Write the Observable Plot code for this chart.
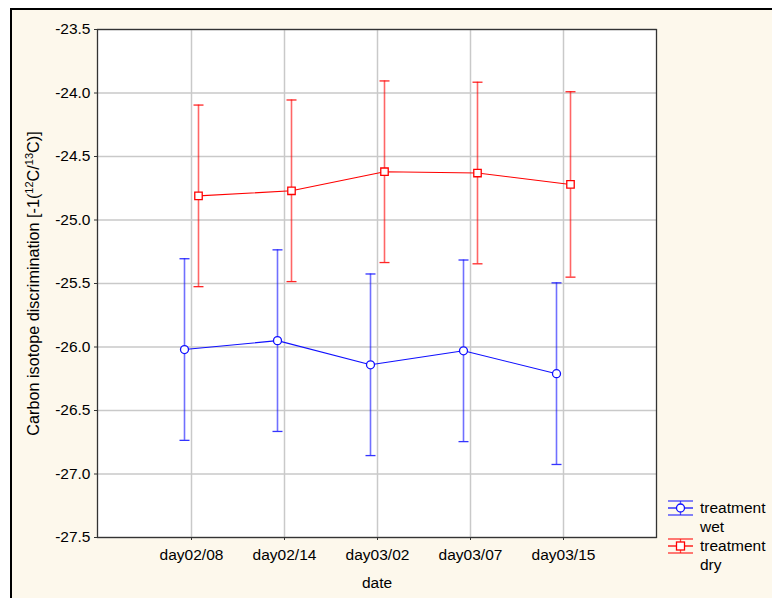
<!DOCTYPE html>
<html>
<head>
<meta charset="utf-8">
<script src="https://cdn.jsdelivr.net/npm/d3@7"></script>
<script src="https://cdn.jsdelivr.net/npm/@observablehq/plot@0.6"></script>
<style>
  html, body { margin: 0; padding: 0; background: #ffffff; overflow: hidden; }
  #wrap { position: relative; width: 772px; height: 598px; overflow: hidden; font-family: "Liberation Sans", Arial, sans-serif; }
  #bg { position: absolute; left: 10px; top: 8px; width: 800px; height: 640px; background: #fdf8ec; border-left: 2px solid #000; border-top: 2px solid #000; }
  #chart { position: absolute; left: 0; top: 0; }
  #legend { position: absolute; left: 667px; top: 497px; font-size: 15.5px; color: #000; }
  .item { position: relative; height: 38px; }
  .item svg { position: absolute; left: 0; top: 3px; }
  .item .lab { position: absolute; left: 33px; top: 1px; line-height: 19px; }
</style>
</head>
<body>
<div id="wrap">
  <div id="bg"></div>
  <div id="chart"></div>
  <div id="legend"></div>
</div>
<script>
const dates = ["day02/08", "day02/14", "day03/02", "day03/07", "day03/15"];
const wetMean = [-26.02, -25.95, -26.14, -26.03, -26.21];
const wetErr  = [0.715, 0.715, 0.715, 0.715, 0.715];
const dryMean = [-24.81, -24.77, -24.62, -24.63, -24.72];
const dryErr  = [0.715, 0.715, 0.715, 0.715, 0.73];
const yTicks = [-27.5, -27.0, -26.5, -26.0, -25.5, -25.0, -24.5, -24.0, -23.5];
const seriesNames = ["treatment\nwet", "treatment\ndry"];
const seriesColors = ["#1010ff", "#ff0000"];
const yLabelParts = [["Carbon isotope discrimination [-1(", false], ["12", true], ["C/", false], ["13", true], ["C)]", false]];

const wet = dates.map((d, i) => ({date: d, mean: wetMean[i], lo: wetMean[i] - wetErr[i], hi: wetMean[i] + wetErr[i]}));
const dry = dates.map((d, i) => ({date: d, mean: dryMean[i], lo: dryMean[i] - dryErr[i], hi: dryMean[i] + dryErr[i]}));

const capSymbol = {
  draw(context, size) {
    const r = Math.sqrt(size / Math.PI);
    context.moveTo(-r, 0);
    context.lineTo(r, 0);
  }
};

function series(data, color, dx, symbol, r) {
  return [
    Plot.ruleX(data, {x: "date", y1: "lo", y2: "hi", stroke: color, strokeOpacity: 0.6, strokeWidth: 1.6, dx}),
    Plot.dot(data, {x: "date", y: "lo", symbol: capSymbol, r: 5, stroke: color, strokeOpacity: 0.85, strokeWidth: 1.3, fill: "none", dx}),
    Plot.dot(data, {x: "date", y: "hi", symbol: capSymbol, r: 5, stroke: color, strokeOpacity: 0.85, strokeWidth: 1.3, fill: "none", dx}),
    Plot.line(data, {x: "date", y: "mean", stroke: color, strokeWidth: 1.1, dx}),
    Plot.dot(data, {x: "date", y: "mean", symbol, r, stroke: color, strokeWidth: 1.3, fill: "white", dx})
  ];
}

const chart = Plot.plot({
  width: 772,
  height: 598,
  marginLeft: 97,
  marginTop: 29,
  marginRight: 116,
  marginBottom: 61,
  style: {background: "transparent", fontSize: "15.5px", fontFamily: "'Liberation Sans', Arial, sans-serif", color: "#000"},
  x: {type: "point", domain: dates, padding: 1},
  y: {domain: [-27.5, -23.5]},
  marks: [
    Plot.frame({fill: "white", stroke: "none"}),
    Plot.gridY(yTicks, {stroke: "#c9c9c9", strokeOpacity: 1, strokeWidth: 1.5}),
    Plot.gridX(dates, {stroke: "#c9c9c9", strokeOpacity: 1, strokeWidth: 1.5}),
    Plot.frame({stroke: "#333", strokeWidth: 1.3}),
    Plot.axisY({ticks: yTicks, tickFormat: d => d.toFixed(1), tickSize: 3, tickPadding: 4, stroke: "#333", fontSize: 15.5,
      label: yLabelParts.map(p => p[0]).join(""), labelAnchor: "center", labelArrow: "none", labelOffset: 70}),
    Plot.axisX({tickSize: 3, tickPadding: 8, stroke: "#333", fontSize: 15.5, label: "date", labelAnchor: "center", labelArrow: "none", labelOffset: 50}),
    ...series(wet, seriesColors[0], -7, "circle", 4),
    ...series(dry, seriesColors[1], 7, "square", 4.2)
  ]
});
document.getElementById("chart").appendChild(chart);

// rich y-axis label with superscripts
const ylab = chart.querySelector('g[aria-label="y-axis label"] text');
if (ylab) {
  ylab.textContent = "";
  ylab.setAttribute("font-size", "16.2px");
  ylab.style.fontSize = "16.2px";
  const ns = "http://www.w3.org/2000/svg";
  yLabelParts.forEach(([t, sup]) => {
    const ts = document.createElementNS(ns, "tspan");
    ts.textContent = t;
    if (sup) { ts.setAttribute("baseline-shift", "super"); ts.setAttribute("font-size", "11px"); }
    ylab.appendChild(ts);
  });
}

// legend
const legend = document.getElementById("legend");
seriesNames.forEach((name, i) => {
  const c = seriesColors[i];
  const item = document.createElement("div");
  item.className = "item";
  const marker = i === 0
    ? `<circle cx="13.5" cy="8" r="4" fill="white" stroke="${c}" stroke-width="1.3"/>`
    : `<rect x="9.5" y="4" width="8" height="8" fill="white" stroke="${c}" stroke-width="1.3"/>`;
  item.innerHTML = `<svg width="28" height="17">
      <line x1="1" x2="26" y1="1" y2="1" stroke="${c}" stroke-opacity="0.8" stroke-width="1.3"/>
      <line x1="1" x2="26" y1="15" y2="15" stroke="${c}" stroke-opacity="0.8" stroke-width="1.3"/>
      <line x1="13.5" x2="13.5" y1="1" y2="15" stroke="${c}" stroke-opacity="0.7" stroke-width="1.3"/>
      <line x1="1" x2="26" y1="8" y2="8" stroke="${c}" stroke-width="1.3"/>
      ${marker}
    </svg><div class="lab">${name.replace("\n", "<br>")}</div>`;
  legend.appendChild(item);
});
</script>
</body>
</html>
